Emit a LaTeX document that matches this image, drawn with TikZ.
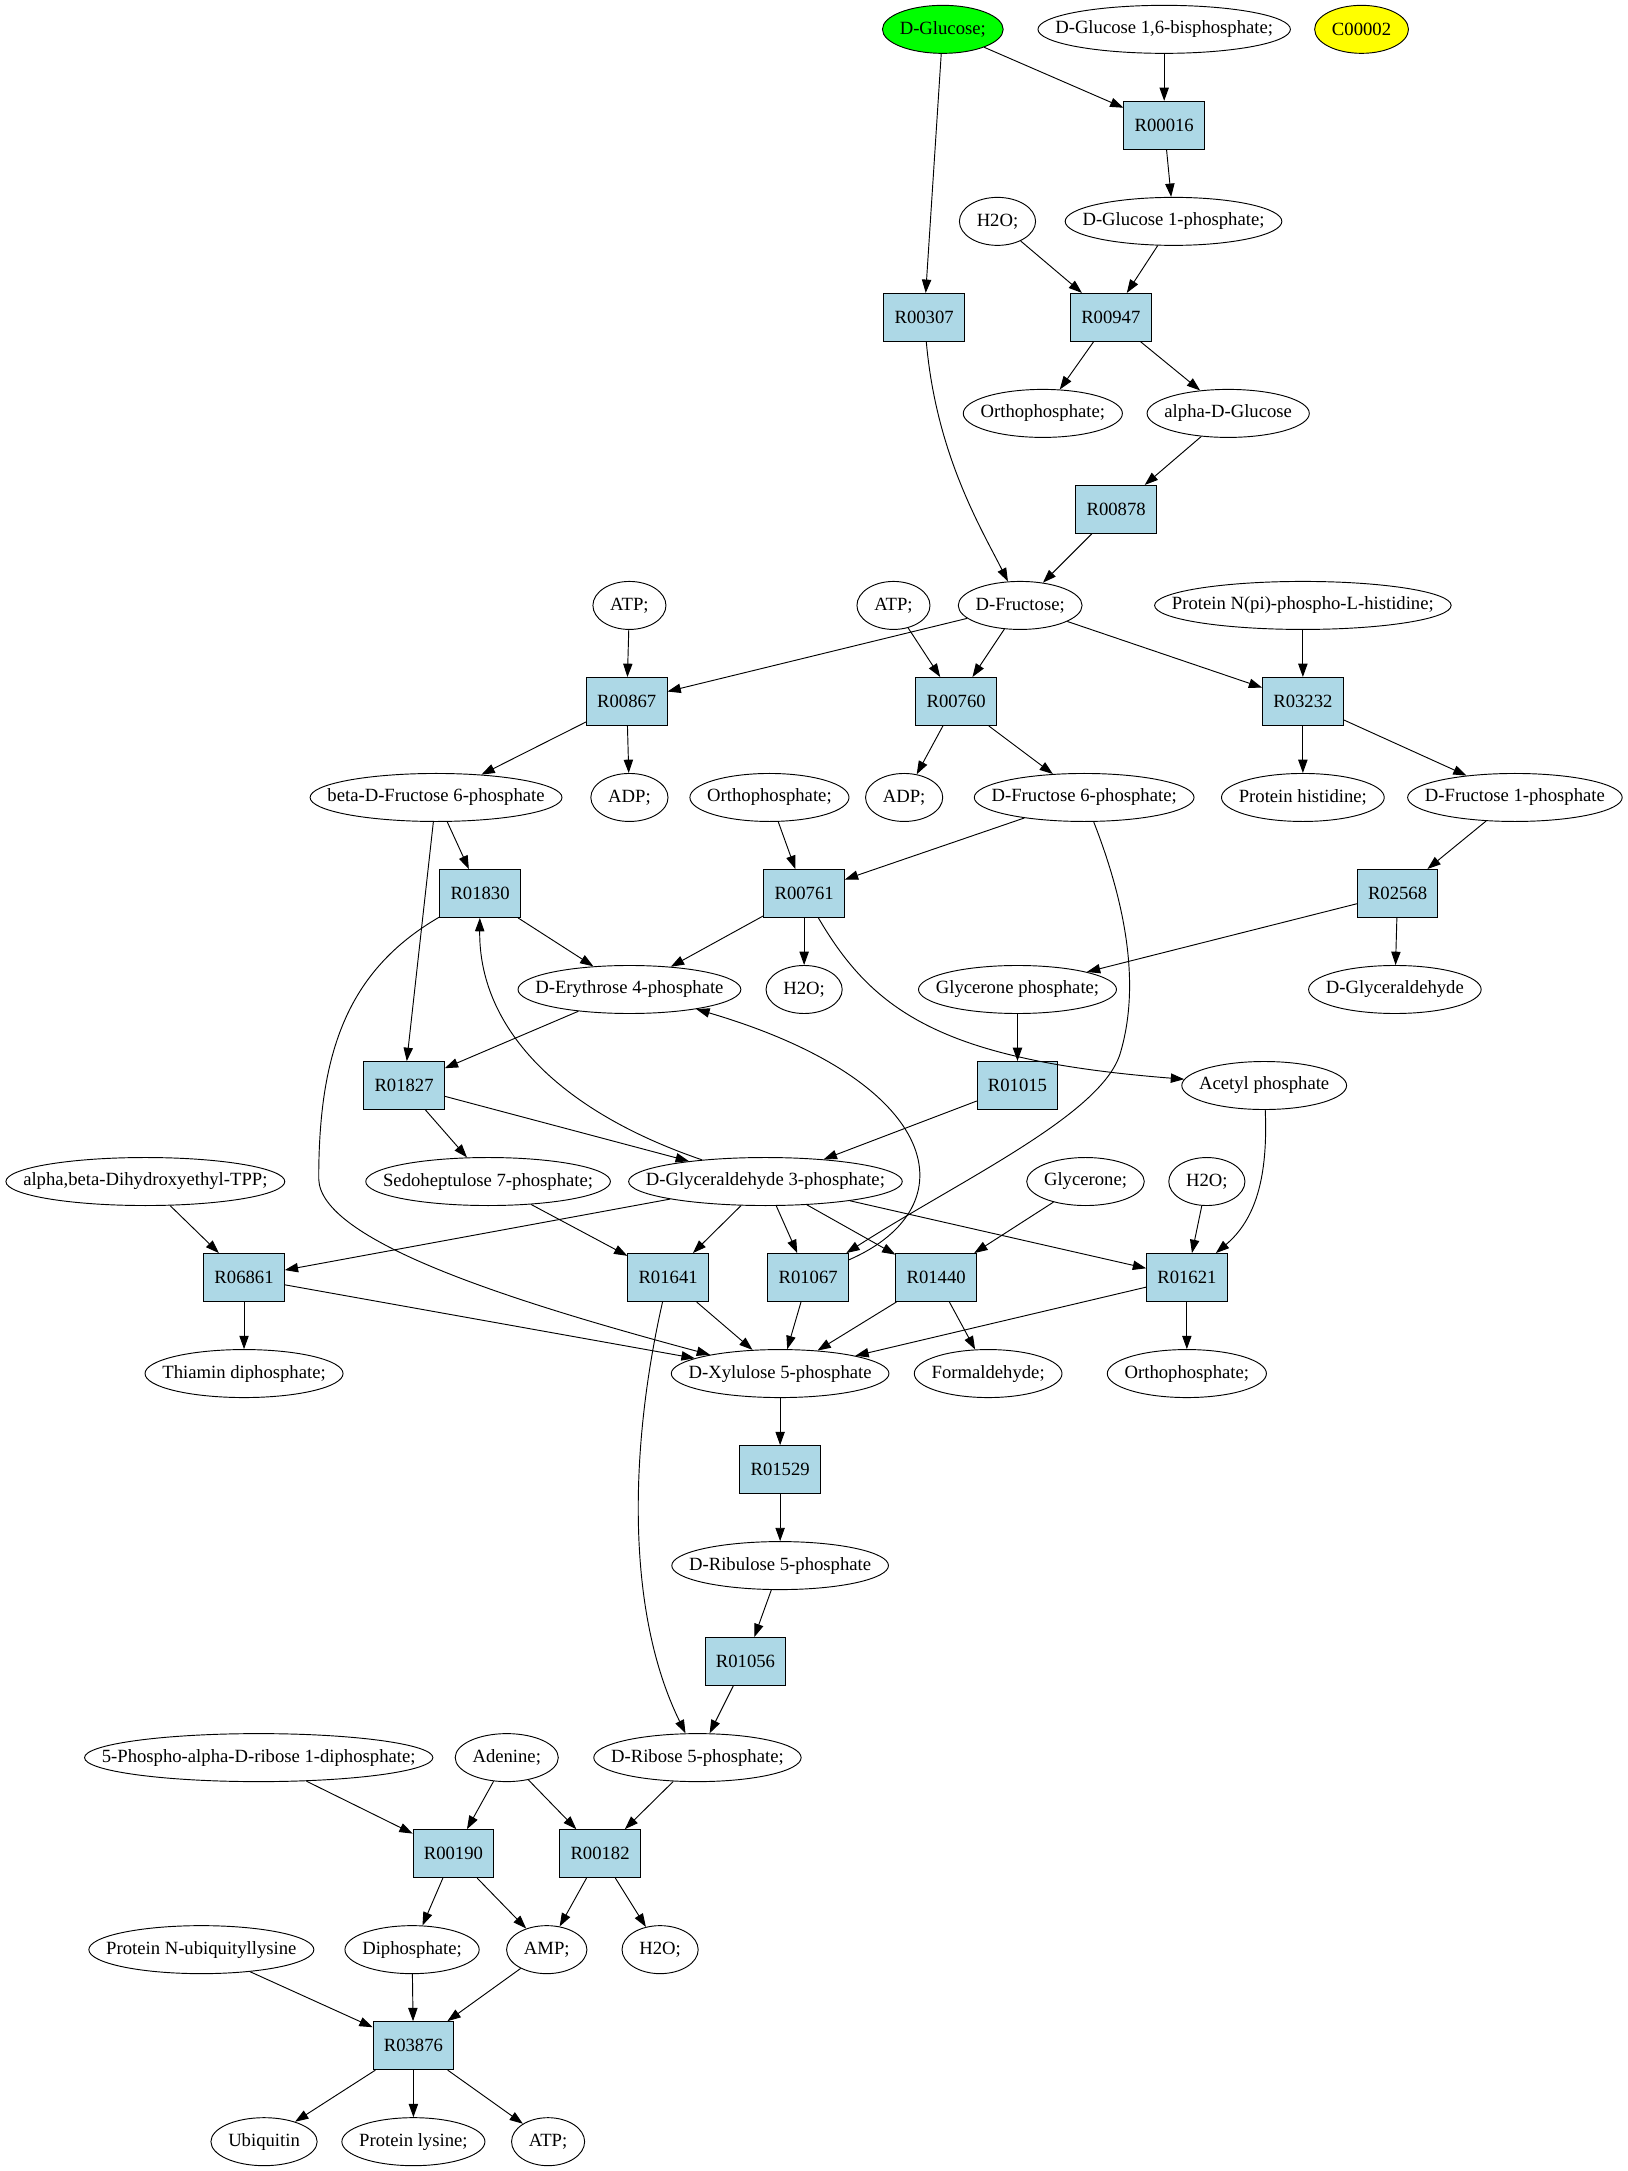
\documentclass[tikz,border=0pt]{standalone}
\usepackage{fontspec}
\setmainfont{Liberation Serif}
\usetikzlibrary{arrows.meta,shapes.geometric}
\definecolor{lb}{HTML}{ADD8E6}
\definecolor{gvgreen}{HTML}{00FF00}
\definecolor{gvyellow}{HTML}{FFFF00}
\newcommand\nfont{\fontsize{14}{16.8}\selectfont}
\newdimen\ellw
\newcommand\deftext[2]{%
  \expandafter\def\csname tx@#1\endcsname{#2}%
  \setbox0=\hbox{\nfont #2}%
  \ellw=\wd0 \advance\ellw by 26pt
  \ifdim\ellw<54pt \ellw=54pt\fi
  \expandafter\edef\csname ew@#1\endcsname{\the\ellw}}
\newcommand\enode[4][]{%
  \node[ell,minimum width=\csname ew@#2\endcsname,#1] (#2) at (#3,#4) {\makebox[0pt]{\csname tx@#2\endcsname}};}
\newcommand\rnode[4]{\node[rbox] (#1) at (#2,#3) {#4};}
\tikzset{
  ell/.style={ellipse,draw=black,fill=white,line width=0.7pt,inner sep=0pt,minimum height=36pt,font=\nfont},
  rbox/.style={rectangle,draw=black,fill=lb,line width=0.7pt,inner xsep=8pt,inner ysep=0pt,minimum width=54pt,minimum height=36pt,font=\nfont},
  edge/.style={draw=black,line width=0.7pt,-{Triangle[length=10pt,width=7pt]}}
}
\begin{document}
\deftext{glc}{D-Glucose;}
\deftext{g16bp}{D-Glucose 1,6-bisphosphate;}
\deftext{c00002}{C00002}
\deftext{h2oA}{H2O;}
\deftext{g1p}{D-Glucose 1-phosphate;}
\deftext{piA}{Orthophosphate;}
\deftext{aglc}{alpha-D-Glucose}
\deftext{atpA}{ATP;}
\deftext{atpB}{ATP;}
\deftext{fru}{D-Fructose;}
\deftext{phis}{Protein N(pi)-phospho-L-histidine;}
\deftext{bf6p}{beta-D-Fructose 6-phosphate}
\deftext{adpA}{ADP;}
\deftext{piB}{Orthophosphate;}
\deftext{adpB}{ADP;}
\deftext{f6p}{D-Fructose 6-phosphate;}
\deftext{phist}{Protein histidine;}
\deftext{f1p}{D-Fructose 1-phosphate}
\deftext{e4p}{D-Erythrose 4-phosphate}
\deftext{h2oB}{H2O;}
\deftext{dhap}{Glycerone phosphate;}
\deftext{glyald}{D-Glyceraldehyde}
\deftext{acp}{Acetyl phosphate}
\deftext{tpp}{alpha,beta-Dihydroxyethyl-TPP;}
\deftext{s7p}{Sedoheptulose 7-phosphate;}
\deftext{g3p}{D-Glyceraldehyde 3-phosphate;}
\deftext{glycerone}{Glycerone;}
\deftext{h2oC}{H2O;}
\deftext{thdp}{Thiamin diphosphate;}
\deftext{xu5p}{D-Xylulose 5-phosphate}
\deftext{hcho}{Formaldehyde;}
\deftext{piC}{Orthophosphate;}
\deftext{ru5p}{D-Ribulose 5-phosphate}
\deftext{prpp}{5-Phospho-alpha-D-ribose 1-diphosphate;}
\deftext{adenine}{Adenine;}
\deftext{r5p}{D-Ribose 5-phosphate;}
\deftext{ubly}{Protein N-ubiquityllysine}
\deftext{ppi}{Diphosphate;}
\deftext{amp}{AMP;}
\deftext{h2oD}{H2O;}
\deftext{ubq}{Ubiquitin}
\deftext{plys}{Protein lysine;}
\deftext{atpC}{ATP;}
\begin{tikzpicture}[x=1pt,y=-1pt]
\useasboundingbox[fill=white] (0,0) rectangle (1220.8,1628);
% level 0
\enode[fill=gvgreen]{glc}{707}{22}
\enode{g16bp}{873}{22}
\enode[fill=gvyellow]{c00002}{1021}{22}
% level 1
\rnode{R00016}{873}{94}{R00016}
% level 2
\enode{h2oA}{748}{166}
\enode{g1p}{880}{166}
% level 3
\rnode{R00307}{693}{238}{R00307}
\rnode{R00947}{833}{238}{R00947}
% level 4
\enode{piA}{782}{310}
\enode{aglc}{921}{310}
% level 5
\rnode{R00878}{837}{382}{R00878}
% level 6
\enode{atpA}{472}{454}
\enode{atpB}{670}{454}
\enode{fru}{765}{454}
\enode{phis}{977}{454}
% level 7
\rnode{R00867}{470}{526}{R00867}
\rnode{R00760}{717}{526}{R00760}
\rnode{R03232}{977}{526}{R03232}
% level 8
\enode{bf6p}{327}{598}
\enode{adpA}{472}{598}
\enode{piB}{577}{598}
\enode{adpB}{678}{598}
\enode{f6p}{813}{598}
\enode{phist}{977}{598}
\enode{f1p}{1136}{598}
% level 9
\rnode{R01830}{360}{670}{R01830}
\rnode{R00761}{603}{670}{R00761}
\rnode{R02568}{1048}{670}{R02568}
% level 10
\enode{e4p}{472}{742}
\enode{h2oB}{603}{742}
\enode{dhap}{763}{742}
\enode{glyald}{1046}{742}
% level 11
\rnode{R01827}{303}{814}{R01827}
\rnode{R01015}{763}{814}{R01015}
\enode{acp}{948}{814}
% level 12
\enode{tpp}{109}{886}
\enode{s7p}{366}{886}
\enode{g3p}{574}{886}
\enode{glycerone}{814}{886}
\enode{h2oC}{905}{886}
% level 13
\rnode{R06861}{183}{958}{R06861}
\rnode{R01641}{501}{958}{R01641}
\rnode{R01067}{606}{958}{R01067}
\rnode{R01440}{702}{958}{R01440}
\rnode{R01621}{890}{958}{R01621}
% level 14
\enode{thdp}{183}{1030}
\enode{xu5p}{585}{1030}
\enode{hcho}{741}{1030}
\enode{piC}{890}{1030}
% level 15
\rnode{R01529}{585}{1102}{R01529}
% level 16
\enode{ru5p}{585}{1174}
% level 17
\rnode{R01056}{559}{1246}{R01056}
% level 18
\enode{prpp}{194}{1318}
\enode{adenine}{380}{1318}
\enode{r5p}{523}{1318}
% level 19
\rnode{R00190}{340}{1390}{R00190}
\rnode{R00182}{450}{1390}{R00182}
% level 20
\enode{ubly}{151}{1462}
\enode{ppi}{309}{1462}
\enode{amp}{410}{1462}
\enode{h2oD}{495}{1462}
% level 21
\rnode{R03876}{310}{1534}{R03876}
% level 22
\enode{ubq}{198}{1606}
\enode{plys}{310}{1606}
\enode{atpC}{411}{1606}
% edges
\foreach \a/\b in {glc/R00016, glc/R00307, g16bp/R00016, R00016/g1p, h2oA/R00947, g1p/R00947,
  R00947/piA, R00947/aglc, aglc/R00878, R00878/fru, atpA/R00867, fru/R00867, atpB/R00760,
  fru/R00760, fru/R03232, phis/R03232, R00867/bf6p, R00867/adpA, R00760/adpB, R00760/f6p,
  R03232/phist, R03232/f1p, bf6p/R01830, bf6p/R01827, piB/R00761, f6p/R00761, f1p/R02568,
  R01830/e4p, R00761/e4p, R00761/h2oB, R02568/dhap, R02568/glyald, e4p/R01827, dhap/R01015,
  R01827/s7p, R01827/g3p, R01015/g3p, g3p/R06861, g3p/R01641, g3p/R01067, g3p/R01440,
  g3p/R01621, s7p/R01641, tpp/R06861, glycerone/R01440, h2oC/R01621, R06861/thdp,
  R06861/xu5p, R01641/xu5p, R01067/xu5p, R01440/xu5p, R01440/hcho, R01621/xu5p, R01621/piC,
  xu5p/R01529, R01529/ru5p, ru5p/R01056, R01056/r5p, prpp/R00190, adenine/R00190,
  adenine/R00182, r5p/R00182, R00190/ppi, R00190/amp, R00182/amp, R00182/h2oD,
  ubly/R03876, ppi/R03876, amp/R03876, R03876/ubq, R03876/plys, R03876/atpC}
  \draw[edge] (\a) -- (\b);
% curved edges
\draw[edge] (R00307) .. controls (702,340) and (735,395) .. (fru);
\draw[edge] (f6p) .. controls (845,680) and (855,740) .. (840,790) .. controls (826,836) and (720,885) .. (R01067);
\draw[edge] (R01067) .. controls (728,905) and (707,811) .. (e4p);
\draw[edge] (g3p) .. controls (416,832) and (359,769) .. (R01830);
\draw[edge] (R01830) .. controls (260,728) and (239,790) .. (239,884) .. controls (240,930) and (380,975) .. (xu5p);
\draw[edge] (R00761) .. controls (655,759) and (707,795) .. (acp);
\draw[edge] (acp) .. controls (951,884) and (941,915) .. (R01621);
\draw[edge] (R01641) .. controls (473,1081) and (468,1206) .. (r5p);
\end{tikzpicture}
\end{document}
